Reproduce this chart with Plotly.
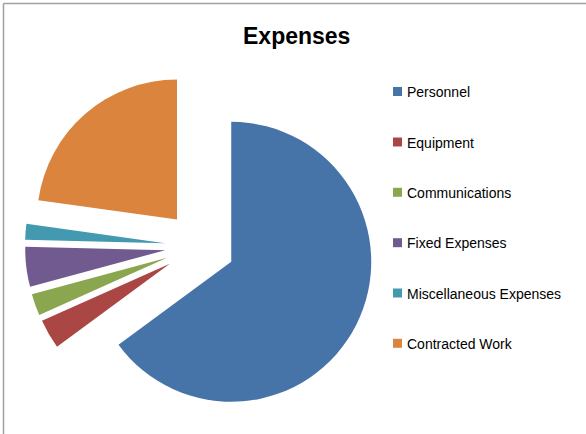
import plotly.graph_objects as go

categories = ["Personnel", "Equipment", "Communications", "Fixed Expenses",
              "Miscellaneous Expenses", "Contracted Work"]
values = [64.9, 3.4, 2.5, 4.6, 1.8, 22.8]
colors = ["#4674A8", "#AA4744", "#8AA64F", "#715A90", "#4299B0", "#DB843D"]

W, H = 586, 434

fig = go.Figure()
fig.add_trace(go.Pie(
    labels=categories, values=values,
    marker=dict(colors=colors, line=dict(width=0)),
    pull=[0.25] * len(values),
    sort=False, direction="clockwise", rotation=0,
    textinfo="none", hoverinfo="label+value",
    showlegend=False,
    domain=dict(x=[25 / W, 375 / W], y=[1 - 421 / H, 1 - 71 / H]),
))

shapes = []
annotations = []
leg_y = [91.5, 142, 192.3, 242.7, 293, 343.3]
for name, col, yc in zip(categories, colors, leg_y):
    shapes.append(dict(type="rect", xref="paper", yref="paper",
                       x0=393 / W, x1=402 / W, y0=1 - (yc + 4.5) / H, y1=1 - (yc - 4.5) / H,
                       fillcolor=col, line=dict(width=0)))
    annotations.append(dict(text=name, xref="paper", yref="paper",
                            x=405 / W, y=1 - (yc + 0.5) / H, xanchor="left", yanchor="middle",
                            showarrow=False,
                            font=dict(family="Liberation Sans, Arial", size=14, color="#000000")))

# chart border (top and left)
shapes.append(dict(type="line", xref="paper", yref="paper", x0=3.5 / W, x1=1, y0=1 - 3.5 / H, y1=1 - 3.5 / H,
                   line=dict(color="#A0A0A0", width=1.5)))
shapes.append(dict(type="line", xref="paper", yref="paper", x0=3.5 / W, x1=3.5 / W, y0=0, y1=1 - 3.5 / H,
                   line=dict(color="#A0A0A0", width=1.5)))

annotations.append(dict(text="<b>Expenses</b>", xref="paper", yref="paper",
                        x=296.5 / W, y=1 - 35.5 / H, xanchor="center", yanchor="middle",
                        showarrow=False,
                        font=dict(family="Liberation Sans, Arial", size=23, color="#000000")))

fig.update_layout(
    width=W, height=H, autosize=False,
    margin=dict(l=0, r=0, t=0, b=0),
    paper_bgcolor="white", plot_bgcolor="white",
    shapes=shapes, annotations=annotations,
)

fig.write_html("out.html", config={"displayModeBar": False},
               post_script="document.body.style.margin='0';document.body.style.overflow='hidden';")
